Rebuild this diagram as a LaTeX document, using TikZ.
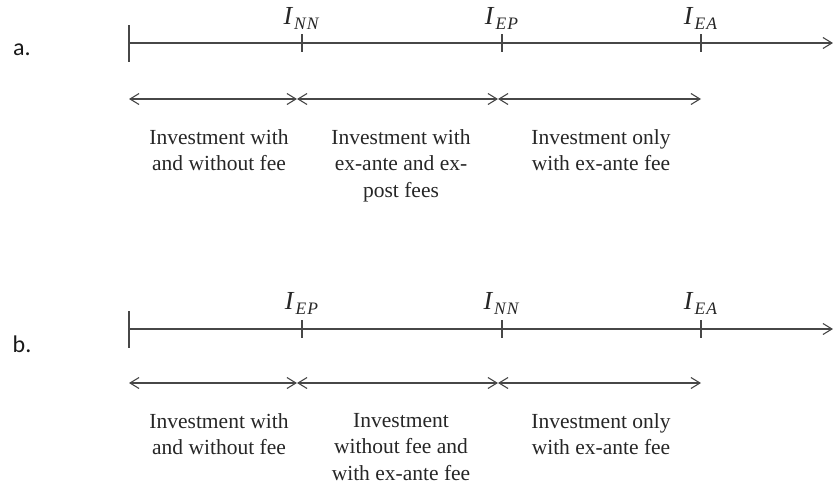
\documentclass[tikz,border=0pt]{standalone}
\usepackage{fontspec}
\setmainfont{Liberation Serif}
\newfontfamily\lblfont{Carlito}
\usetikzlibrary{arrows.meta}
\newcommand{\ilab}[1]{\textit{I}\kern1pt\raisebox{-5pt}{\fontsize{17.5}{18}\selectfont\addfontfeature{LetterSpace=6}\textit{#1}}}
\begin{document}
\begin{tikzpicture}[x=1pt,y=-1pt,
  axisline/.style={draw=black!72, line width=1.1pt},
  ticks/.style={draw=black!72, line width=1.1pt},
  span/.style={draw=black!72, line width=1.1pt, {Straight Barb[length=9pt,width=11pt]}-{Straight Barb[length=9pt,width=11pt]}},
  axisarrow/.style={-{Straight Barb[length=9pt,width=11pt]}},
  txt/.style={font=\fontsize{21.5}{26.5}\selectfont, align=center, inner sep=0pt, anchor=north, text=black!85},
  mlabel/.style={font=\fontsize{26}{28}\selectfont, inner sep=0pt, anchor=base, text=black!85},
  panel/.style={font=\lblfont\fontsize{24}{28}\selectfont, inner sep=0pt, anchor=base, text=black!90}]
\useasboundingbox (0,0) rectangle (833,488);

% ---------- panel a ----------
\node[panel] (la) at (22,55) {a.};
\coordinate (a0) at (129,43);
\coordinate (a1) at (302,43);
\coordinate (a2) at (502,43);
\coordinate (a3) at (701,43);
\coordinate (aend) at (833,43);
\draw[axisline, axisarrow] (a0) -- (aend);
\draw[ticks] (129,25) -- (129,62);
\foreach \p in {a1,a2,a3} \draw[ticks] ([yshift=-8.5pt]\p) -- ([yshift=9.5pt]\p);
\node[mlabel] (ann) at (302,24) {\ilab{NN}};
\node[mlabel] (aep) at (502,24) {\ilab{EP}};
\node[mlabel] (aea) at (701,24) {\ilab{EA}};
\coordinate (s0) at (129,99);
\coordinate (s1) at (297,99);
\coordinate (s2) at (498,99);
\coordinate (s3) at (701,99);
\draw[span] (s0) -- (s1);
\draw[span] (s1) -- (s2);
\draw[span] (s2) -- (s3);
\node[txt] (ta1) at (219,129) {Investment with\\and without fee};
\node[txt] (ta2) at (401,129) {Investment with\\ex-ante and ex-\\post fees};
\node[txt] (ta3) at (601,129) {Investment only\\with ex-ante fee};

% ---------- panel b ----------
\node[panel] (lb) at (22,352) {b.};
\coordinate (b0) at (129,329);
\coordinate (b1) at (302,329);
\coordinate (b2) at (502,329);
\coordinate (b3) at (701,329);
\coordinate (bend) at (833,329);
\draw[axisline, axisarrow] (b0) -- (bend);
\draw[ticks] (129,311) -- (129,348);
\foreach \p in {b1,b2,b3} \draw[ticks] ([yshift=-8.5pt]\p) -- ([yshift=9.5pt]\p);
\node[mlabel] (bep) at (302,309) {\ilab{EP}};
\node[mlabel] (bnn) at (502,309) {\ilab{NN}};
\node[mlabel] (bea) at (701,309) {\ilab{EA}};
\coordinate (u0) at (129,383);
\coordinate (u1) at (297,383);
\coordinate (u2) at (498,383);
\coordinate (u3) at (701,383);
\draw[span] (u0) -- (u1);
\draw[span] (u1) -- (u2);
\draw[span] (u2) -- (u3);
\node[txt] (tb1) at (219,413) {Investment with\\and without fee};
\node[txt] (tb2) at (401,413) {Investment\\without fee and\\with ex-ante fee};
\node[txt] (tb3) at (601,413) {Investment only\\with ex-ante fee};
\end{tikzpicture}
\end{document}
